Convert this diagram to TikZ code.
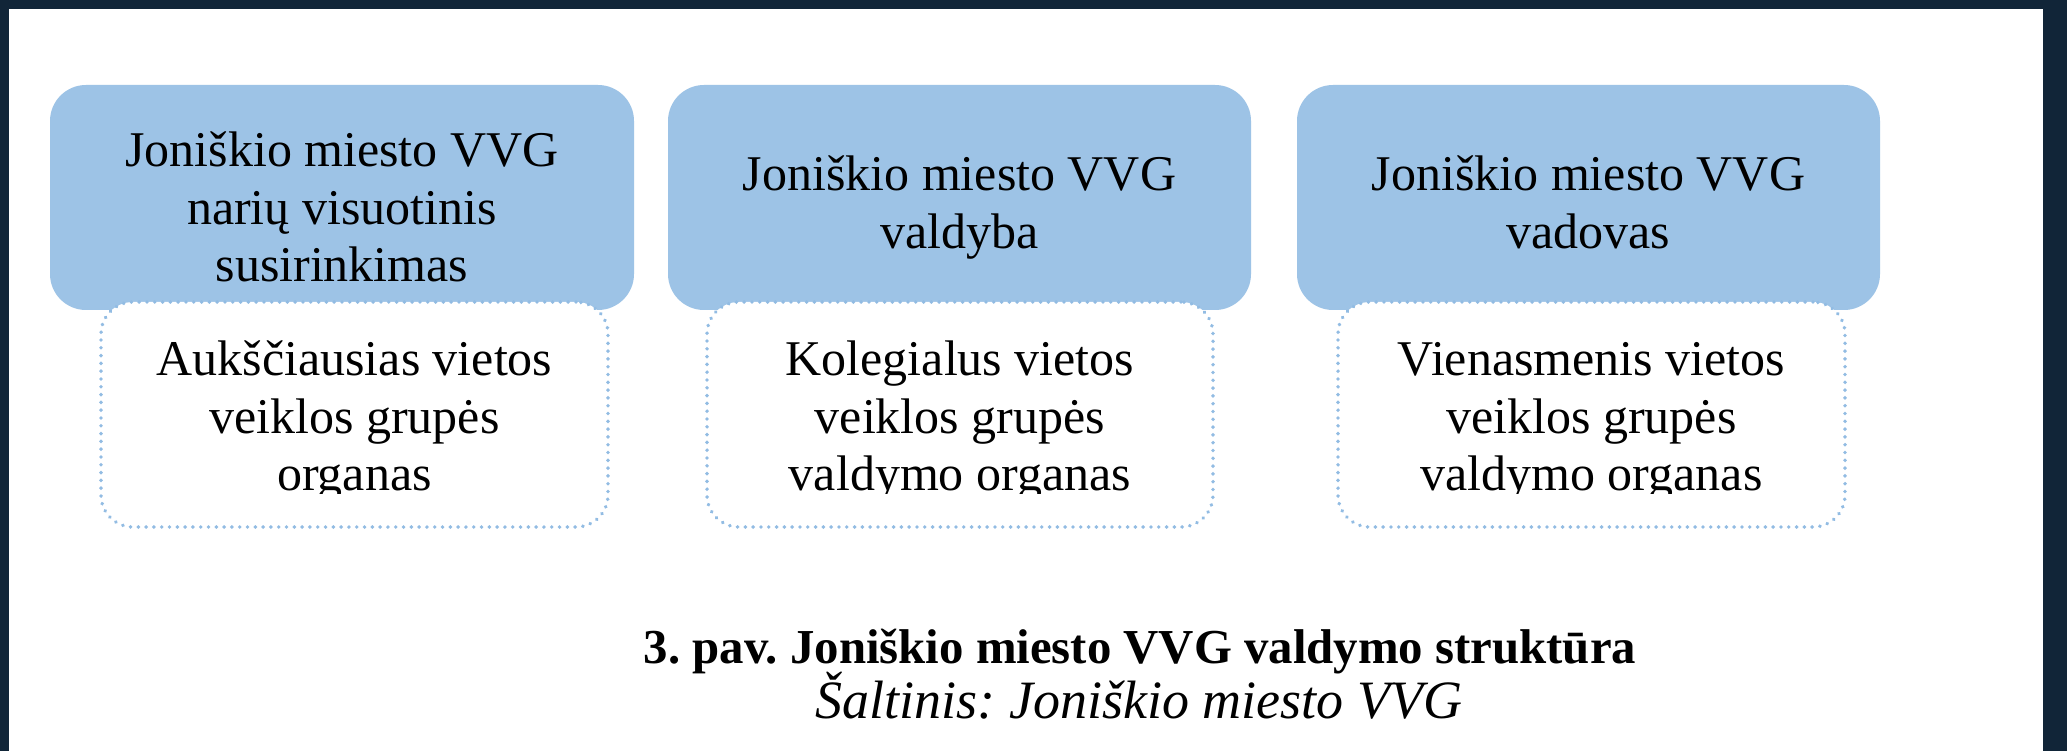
\documentclass[tikz,border=0pt]{standalone}
\usepackage{fontspec}
\setmainfont{Liberation Serif}
\definecolor{boxblue}{HTML}{9DC3E6}
\definecolor{dotblue}{HTML}{92BCE3}
\definecolor{frame}{HTML}{112538}
\newcommand\mytxtfont{\fontsize{50}{57}\selectfont}
\frenchspacing
\begin{document}
\begin{tikzpicture}[x=1pt,y=-1pt,
  bluebox/.style={fill=boxblue, draw=none, rounded corners=36pt, inner sep=0pt},
  whitebox/.style={fill=white, draw=dotblue, line width=3.8pt, dash pattern=on 0.1pt off 7.7pt, line cap=round, rounded corners=32pt, inner sep=0pt},
  txtline/.style={font=\mytxtfont, anchor=base, inner sep=0pt, text=black},
  captb/.style={font=\fontsize{48.8}{55}\selectfont\bfseries, anchor=base, inner sep=0pt},
  capti/.style={font=\fontsize{54}{60}\selectfont\itshape, anchor=base, inner sep=0pt}
]
\useasboundingbox (0,0) rectangle (2067,751);
\fill[white] (0,0) rectangle (2067,751);
% dark frame
\fill[frame] (0,0) rectangle (2067,9);
\fill[frame] (0,0) rectangle (9,751);
\fill[frame] (2043,0) rectangle (2067,751);

% blue boxes
\node[bluebox, minimum width=584pt, minimum height=225pt] (b1) at (342,197.5) {};
\node[bluebox, minimum width=583pt, minimum height=225pt] (b2) at (959.5,197.5) {};
\node[bluebox, minimum width=583pt, minimum height=225pt] (b3) at (1588.5,197.5) {};

% white dotted boxes
\node[whitebox, minimum width=507pt, minimum height=225pt] (w1) at (354.5,414.5) {};
\node[whitebox, minimum width=506pt, minimum height=225pt] (w2) at (960,414.5) {};
\node[whitebox, minimum width=507pt, minimum height=225pt] (w3) at (1591.5,414.5) {};

% blue box texts
\node[txtline] (b1a) at (342,167) {Joniškio miesto VVG};
\node[txtline] (b1b) at (342,225) {narių visuotinis};
\node[txtline] (b1c) at (342,282) {susirinkimas};
\node[txtline] (b2a) at (959.5,191) {Joniškio miesto VVG};
\node[txtline] (b2b) at (959.5,249) {valdyba};
\node[txtline] (b3a) at (1588.5,191) {Joniškio miesto VVG};
\node[txtline] (b3b) at (1588.5,249) {vadovas};

% white box texts (last line cut off by the box)
\begin{scope}
\clip (90,300) rectangle (1860,493);
\node[txtline] (w1a) at (354.5,375) {Aukščiausias vietos};
\node[txtline] (w1b) at (354.5,433) {veiklos grupės};
\node[txtline] (w1c) at (354.5,490) {organas};
\node[txtline] (w2a) at (960,375) {Kolegialus vietos};
\node[txtline] (w2b) at (960,433) {veiklos grupės};
\node[txtline] (w2c) at (960,490) {valdymo organas};
\node[txtline] (w3a) at (1591.5,375) {Vienasmenis vietos};
\node[txtline] (w3b) at (1591.5,433) {veiklos grupės};
\node[txtline] (w3c) at (1591.5,490) {valdymo organas};
\end{scope}

% caption
\node[captb] (cap) at (1140,663) {3. pav. Joniškio miesto VVG valdymo struktūra};
\node[capti] (src) at (1139,718) {Šaltinis: Joniškio miesto VVG};
\end{tikzpicture}
\end{document}
